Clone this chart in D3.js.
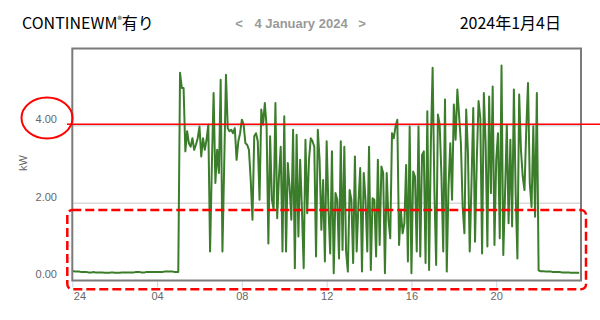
<!DOCTYPE html>
<html>
<head>
<meta charset="utf-8">
<script src="https://cdn.jsdelivr.net/npm/d3@7"></script>
<style>
  body { margin: 0; background: #fff; }
  .chart { width: 600px; height: 320px; }
  text { font-family: "Liberation Sans", Arial, sans-serif; }
  .jp { font-family: "Noto Sans CJK JP", sans-serif; }
</style>
</head>
<body>
<div class="chart"></div>
<script>
(function chart() {

  'use strict';

  // kW readings, one every 5 minutes, split by 4 hour blocks
  var kw00to04 = [
    0.24,0.24,0.23,0.23,0.23,0.22,0.22,0.22,0.22,0.21,0.21,0.21,
    0.22,0.21,0.21,0.21,0.21,0.21,0.20,0.20,0.20,0.20,0.21,0.21,
    0.20,0.20,0.20,0.20,0.21,0.21,0.21,0.21,0.21,0.21,0.21,0.21,
    0.22,0.22,0.22,0.21,0.21,0.21,0.22,0.22,0.22,0.22,0.22,0.22
  ];
  var kw04to08 = [
    0.22,0.22,0.22,0.22,0.23,0.23,0.23,0.23,0.23,0.23,0.22,0.22,0.22,
    5.37,4.98,4.98,3.34,3.86,3.55,3.46,3.68,3.38,3.51,3.68,3.98,
    3.21,3.68,3.38,3.64,4.03,0.75,2.95,4.85,2.52,3.38,2.78,5.19,
    0.75,3.00,5.32,3.94,3.86,3.90,3.81,3.94,3.12,3.60,3.81
  ];
  var kw08to12 = [
    4.16,4.03,
    3.55,3.51,3.38,2.61,1.57,3.73,3.81,3.60,2.09,4.42,4.03,4.59,
    3.98,0.96,3.73,2.09,1.83,4.59,1.61,2.69,3.46,0.75,4.25,0.75,
    3.04,2.43,1.57,3.90,0.32,3.77,1.14,3.12,1.83,0.32,3.64,1.74,
    3.12,3.68,3.60,3.46,0.62,3.90,3.12,1.31,2.60,0.49
  ];
  var kw12to16 = [
    3.60,1.91,0.70,3.34,0.19,2.26,2.09,0.57,3.60,0.79,3.46,0.75,
    0.23,2.34,2.09,0.45,3.21,0.75,2.00,2.91,0.23,2.78,2.09,0.75,
    3.46,0.27,2.13,2.09,0.62,3.12,0.92,2.95,2.78,0.19,2.78,1.57,
    1.09,3.81,3.68,3.98,4.16,0.92,1.83,1.22,1.48,2.99,0.49,3.98
  ];
  var kw16to20 = [
    0.19,2.82,2.69,0.75,3.98,0.62,3.25,3.34,0.45,4.38,0.27,3.55,
    5.50,2.34,0.40,4.29,4.03,2.69,0.75,4.68,0.23,2.43,3.55,2.09,
    4.55,3.64,4.94,4.25,3.55,1.91,1.22,4.42,3.30,0.75,2.50,4.46,
    1.00,3.12,4.64,4.20,0.70,4.85,3.55,0.88,4.76,2.26,5.02,0.92
  ];
  var kw20to24 = [
    3.12,3.81,1.09,5.56,0.66,2.26,4.03,1.48,3.64,1.40,4.94,2.26,
    0.57,4.81,3.38,2.69,2.34,3.90,5.11,2.52,1.90,3.99,1.65,4.85,
    0.26,0.24,0.24,0.24,0.23,0.23,0.23,0.23,0.22,0.22,0.22,0.22,
    0.22,0.21,0.21,0.21,0.21,0.21,0.20,0.20,0.20,0.20,0.20,0.20
  ];

  var hourTicks = [0, 4, 8, 12, 16, 20];
  var hourLabels = ['24', '04', '08', '12', '16', '20'];
  var kwTicks = [0, 2, 4];
  var redLineKw = 4.04;

  var readings = [].concat(kw00to04, kw04to08, kw08to12, kw12to16, kw16to20, kw20to24)
    .map(function (v, i) {
      return { t: i * 5 / 60, v: v };
    });

  var svg = d3.select('.chart').append('svg')
    .attr('width', 600)
    .attr('height', 320);

  var x = d3.scaleLinear().domain([0, 24]).range([72.3, 581]);
  var y = d3.scaleLinear().domain([0, 6]).range([280.5, 48.5]);

  // Titles
  var title = svg.append('text')
    .attr('class', 'jp')
    .attr('x', 22)
    .attr('y', 29)
    .attr('font-size', 16)
    .attr('fill', '#000');
  title.append('tspan').text('CONTINEWM');
  title.append('tspan').attr('font-size', 9).attr('dy', -6).text('®');
  title.append('tspan').attr('dy', 6).text('有り');

  var nav = svg.append('g')
    .attr('font-size', 13)
    .attr('font-weight', 'bold')
    .attr('fill', '#999')
    .attr('text-anchor', 'middle');
  nav.append('text').attr('x', 239).attr('y', 28).text('<');
  nav.append('text').attr('x', 301).attr('y', 28).text('4 January 2024');
  nav.append('text').attr('x', 362).attr('y', 28).text('>');

  svg.append('text')
    .attr('class', 'jp')
    .attr('x', 561)
    .attr('y', 29)
    .attr('text-anchor', 'end')
    .attr('font-size', 16)
    .attr('fill', '#000')
    .text('2024年1月4日');

  // Grid lines
  svg.append('g').selectAll('line')
    .data(kwTicks.filter(function (d) { return d > 0; }))
    .enter()
    .append('line')
      .attr('x1', x(0))
      .attr('x2', x(24))
      .attr('y1', function (d) { return y(d); })
      .attr('y2', function (d) { return y(d); })
      .attr('stroke', '#c6c6c6')
      .attr('stroke-width', 1);

  // Y labels
  svg.append('g').selectAll('text')
    .data(kwTicks)
    .enter()
    .append('text')
      .attr('x', 57)
      .attr('y', function (d) { return y(d) - 2.5; })
      .attr('text-anchor', 'end')
      .attr('font-size', 11)
      .attr('fill', '#666')
      .text(d3.format('.2f'));

  svg.append('text')
    .attr('transform', 'translate(27,163) rotate(-90)')
    .attr('text-anchor', 'middle')
    .attr('font-size', 11)
    .attr('fill', '#666')
    .text('kW');

  // X axis
  var xAxis = svg.append('g')
    .attr('transform', 'translate(0,' + y(0) + ')')
    .call(d3.axisBottom(x)
      .tickValues(hourTicks)
      .tickSize(7)
      .tickPadding(5)
      .tickFormat(function (d, i) { return hourLabels[i]; }));
  xAxis.select('.domain').remove();
  xAxis.selectAll('.tick line').attr('stroke', '#ccd6eb');
  xAxis.selectAll('.tick text')
    .attr('fill', '#666')
    .attr('font-size', 11)
    .attr('font-family', '"Liberation Sans", Arial, sans-serif');
  xAxis.selectAll('.tick text')
    .filter(function (d) { return d === 0; })
    .attr('text-anchor', 'start')
    .attr('x', 1);

  // Series
  svg.append('path')
    .datum(readings)
    .attr('fill', 'none')
    .attr('stroke', '#3b7d2b')
    .attr('stroke-width', 2)
    .attr('stroke-linejoin', 'round')
    .attr('d', d3.line()
      .x(function (d) { return x(d.t); })
      .y(function (d) { return y(d.v); }));

  // Plot frame
  svg.append('rect')
    .attr('x', x(0))
    .attr('y', y(6))
    .attr('width', x(24) - x(0))
    .attr('height', y(0) - y(6))
    .attr('fill', 'none')
    .attr('stroke', '#7a7a7a')
    .attr('stroke-width', 2);

  // Red hand annotations
  svg.append('line')
    .attr('x1', 67)
    .attr('x2', 600)
    .attr('y1', y(redLineKw))
    .attr('y2', y(redLineKw))
    .attr('stroke', '#ff0000')
    .attr('stroke-width', 1.5);

  svg.append('ellipse')
    .attr('cx', 47)
    .attr('cy', 118)
    .attr('rx', 25.5)
    .attr('ry', 20.5)
    .attr('fill', 'none')
    .attr('stroke', '#ff0000')
    .attr('stroke-width', 2);

  svg.append('rect')
    .attr('x', 67.3)
    .attr('y', 210)
    .attr('width', 586 - 67.3)
    .attr('height', 79.3)
    .attr('rx', 5)
    .attr('fill', 'none')
    .attr('stroke', '#ff0000')
    .attr('stroke-width', 2.5)
    .attr('stroke-dasharray', '9,4');
})();
</script>
</body>
</html>
